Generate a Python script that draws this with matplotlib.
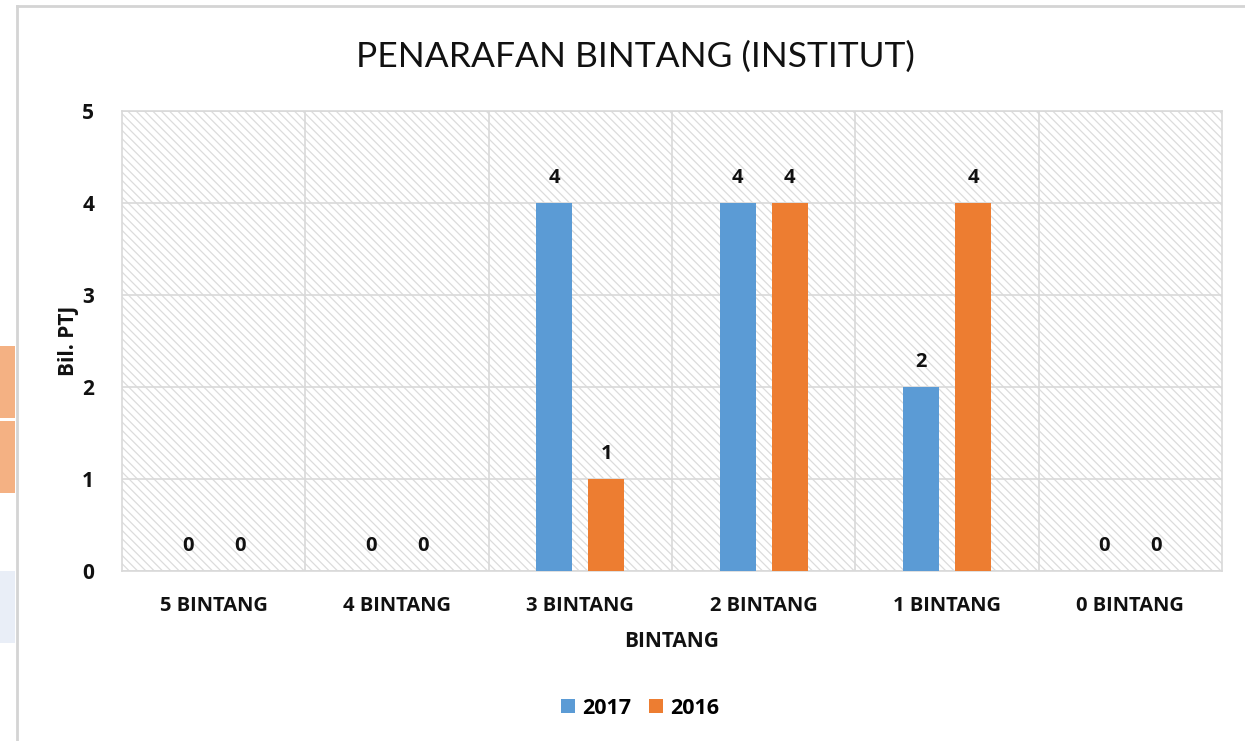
import matplotlib
matplotlib.use("Agg")
import matplotlib.pyplot as plt
from matplotlib.patches import Rectangle
from matplotlib.lines import Line2D
import numpy as np

categories = ["5 BINTANG", "4 BINTANG", "3 BINTANG", "2 BINTANG", "1 BINTANG", "0 BINTANG"]
series_names = ["2017", "2016"]
values_2017 = [0, 0, 4, 4, 2, 0]
values_2016 = [0, 0, 1, 4, 4, 0]
yticks = [0, 1, 2, 3, 4, 5]

c2017 = "#5B9BD5"
c2016 = "#ED7D31"
grid_c = "#D9D9D9"
txt_c = "#111111"
bold_font = ['Open Sans', 'DejaVu Sans']

plt.rcParams['font.family'] = ['Lato', 'DejaVu Sans']
plt.rcParams['hatch.color'] = '#DCDCDC'
plt.rcParams['hatch.linewidth'] = 0.9

W, H = 1245, 741
fig = plt.figure(figsize=(W / 100, H / 100), dpi=100)

# left-edge artifacts and chart border
fig.patches.append(Rectangle((0, 1 - 418 / H), 15 / W, 72 / H, transform=fig.transFigure,
                             facecolor="#F4B183", edgecolor="none"))
fig.patches.append(Rectangle((0, 1 - 493 / H), 15 / W, 72 / H, transform=fig.transFigure,
                             facecolor="#F4B183", edgecolor="none"))
fig.patches.append(Rectangle((0, 1 - 643 / H), 15 / W, 72 / H, transform=fig.transFigure,
                             facecolor="#E9EEF7", edgecolor="none"))
fig.lines.append(Line2D([17 / W, 17 / W], [0, 1 - 6 / H], transform=fig.transFigure,
                        color="#D4D4D4", linewidth=2))
fig.lines.append(Line2D([17 / W, 1], [1 - 6 / H, 1 - 6 / H], transform=fig.transFigure,
                        color="#D4D4D4", linewidth=2))

left, right, top, bottom = 122, 1222, 111, 571
ax = fig.add_axes([left / W, 1 - bottom / H, (right - left) / W, (bottom - top) / H])

x = np.arange(len(categories))
ax.set_xlim(-0.5, len(categories) - 0.5)
ax.set_ylim(0, 5)

# hatched background
ax.add_patch(Rectangle((0, 0), 1, 1, transform=ax.transAxes, facecolor="white",
                       edgecolor="#DCDCDC", linewidth=0, hatch="\\\\\\\\", zorder=0))

for yv in yticks:
    ax.axhline(yv, color=grid_c, linewidth=1.2, zorder=1)
for xv in np.arange(0.5, len(categories) - 0.5, 1):
    ax.axvline(xv, color=grid_c, linewidth=1.2, zorder=1)

bw = 0.196
off = 0.142
b1 = ax.bar(x - off, values_2017, width=bw, color=c2017, zorder=3, label=series_names[0])
b2 = ax.bar(x + off, values_2016, width=bw, color=c2016, zorder=3, label=series_names[1])

for bars, vals in ((b1, values_2017), (b2, values_2016)):
    for rect, v in zip(bars, vals):
        ax.annotate(str(v), (rect.get_x() + rect.get_width() / 2, v), xytext=(0, 18),
                    textcoords="offset points", ha="center", va="center",
                    fontsize=14.5, fontweight="bold", family=bold_font, color=txt_c, zorder=4)

for s in ax.spines.values():
    s.set_color(grid_c)
    s.set_linewidth(1.2)

ax.set_xticks(x)
ax.set_xticklabels(categories, fontsize=14.5, fontweight="bold", family=bold_font, color=txt_c)
ax.set_yticks(yticks)
ax.set_yticklabels([str(t) for t in yticks], fontsize=15, fontweight="bold",
                   family=bold_font, color=txt_c)
ax.tick_params(axis="both", length=0)
ax.tick_params(axis="x", pad=18)
ax.tick_params(axis="y", pad=20)

ax.set_xlabel("BINTANG", fontsize=15, fontweight="bold", family=bold_font, color=txt_c,
              labelpad=11)
ax.set_ylabel("Bil. PTJ", fontsize=15, fontweight="bold", family=bold_font, color=txt_c,
              labelpad=2)

fig.text(635 / W, 1 - 57 / H, "PENARAFAN BINTANG (INSTITUT)", ha="center", va="center",
         fontsize=25.5, color=txt_c)

leg = fig.legend(handles=[b1, b2], labels=series_names, loc="center",
                 bbox_to_anchor=(640 / W, 1 - 708 / H), ncol=2, frameon=False,
                 prop={"weight": "bold", "size": 15.5, "family": bold_font},
                 handlelength=0.65, handleheight=0.65,
                 columnspacing=0.8, handletextpad=0.35)

fig.savefig("out.png", dpi=100)
